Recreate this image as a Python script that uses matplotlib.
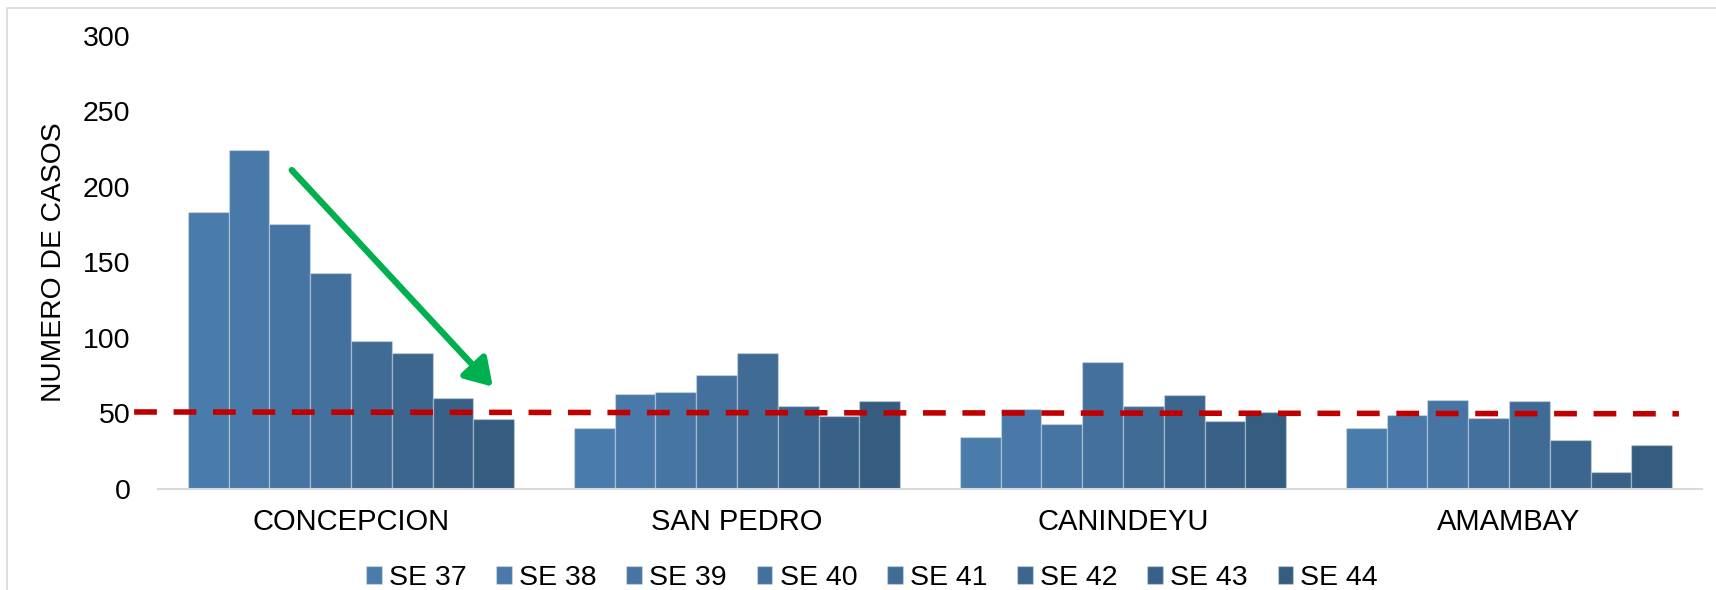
import numpy as np
import matplotlib
matplotlib.use('Agg')
import matplotlib.pyplot as plt
from matplotlib.patches import Rectangle

plt.rcParams['font.family'] = ['Liberation Sans', 'DejaVu Sans']

departamentos = ['CONCEPCION', 'SAN PEDRO', 'CANINDEYU', 'AMAMBAY']
semanas = ['SE 37', 'SE 38', 'SE 39', 'SE 40', 'SE 41', 'SE 42', 'SE 43', 'SE 44']

# casos por semana (SE 37 .. SE 44)
concepcion = [183, 224, 175, 143, 98, 90, 60, 46]
san_pedro = [40, 63, 64, 75, 90, 55, 48, 58]
canindeyu = [34, 53, 43, 84, 55, 62, 45, 51]
amambay = [40, 49, 59, 47, 58, 32, 11, 29]

# linea de referencia (inicio, fin)
umbral = [50.8, 49.6]

colores = ['#4A7CAB', '#4879A8', '#4675A3', '#43709C',
           '#406B95', '#3C668E', '#396187', '#355D80']

fig = plt.figure(figsize=(17.16, 5.9), dpi=100)
ax = fig.add_axes([0.0921, 0.1717, 0.8998, 0.7681])

x = np.arange(len(departamentos))
w = 0.1057
for i in range(len(semanas)):
    vals = [concepcion[i], san_pedro[i], canindeyu[i], amambay[i]]
    ax.bar(x + (i - 3.5) * w, vals, w, color=colores[i],
           edgecolor=(1, 1, 1, 0.3), linewidth=1, label=semanas[i])

ax.set_xlim(-0.5, 3.5)
ax.set_ylim(0, 300)
ax.set_yticks(range(0, 301, 50))
ax.set_xticks(x)
ax.set_xticklabels(departamentos)
for s in ['top', 'right', 'left']:
    ax.spines[s].set_visible(False)
ax.spines['bottom'].set_color('#d9d9d9')
ax.spines['bottom'].set_linewidth(1.5)
ax.tick_params(axis='both', length=0)
ax.tick_params(axis='y', labelsize=20.5, pad=20)
ax.tick_params(axis='x', labelsize=21, pad=14)
ax.set_ylabel('NUMERO DE CASOS', fontsize=20.3)
ax.yaxis.set_label_coords(-0.059, 0.5)

# linea punteada roja
ax.plot([-0.562, 3.44], umbral, color='#c00000', lw=4,
        linestyle=(0, (4.1, 3.0)), clip_on=False, zorder=5)

# flecha verde
ax.annotate('', xy=(0.2168, 0.225), xytext=(0.0866, 0.703),
            xycoords='axes fraction', textcoords='axes fraction',
            arrowprops=dict(arrowstyle='-|>,head_length=0.8,head_width=0.5',
                            color='#00b050', lw=4.6, mutation_scale=20,
                            shrinkA=0, shrinkB=0), zorder=6)

fig.legend(loc='center', bbox_to_anchor=(872 / 1716, 1 - 578 / 590), ncol=8,
           frameon=False, fontsize=20.5, handlelength=0.55, handleheight=0.55,
           handletextpad=0.25, columnspacing=1.05)

fig.patches.append(Rectangle((7 / 1716, -0.05), 1.1, (590 - 8) / 590 + 0.05,
                             transform=fig.transFigure, fill=False,
                             edgecolor='#d9d9d9', lw=1.2))

fig.savefig('out.png', dpi=100)
